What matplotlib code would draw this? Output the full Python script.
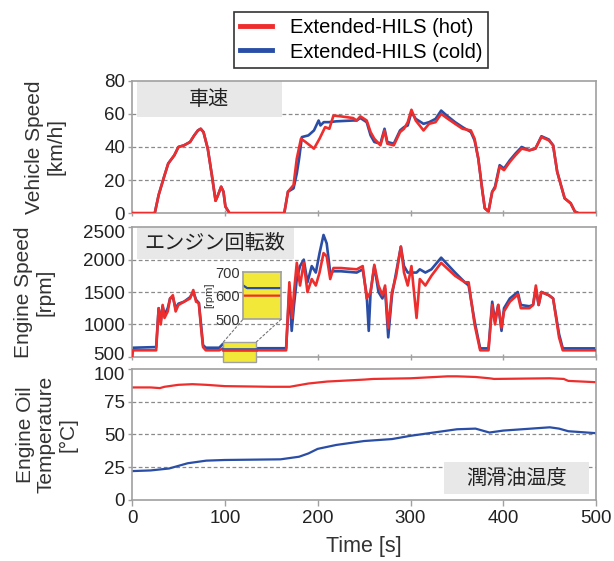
import numpy as np
import matplotlib
matplotlib.use("Agg")
import matplotlib.pyplot as plt
import matplotlib.transforms as mtransforms
from matplotlib.patches import Rectangle, ConnectionPatch

plt.rcParams['font.family'] = ['Liberation Sans', 'Noto Sans CJK JP', 'DejaVu Sans']

RED = '#ee2d2d'
BLUE = '#2a4ea6'
GRAY = '#a0a0a0'
BOXC = '#e8e8e8'

# vehicle speed [km/h]
t_spd_hot = [0, 24.5, 28.7, 34, 39, 45.6, 50, 56, 62.5, 67, 71, 74, 77, 81.6, 86, 90, 92, 96, 98.5, 100.6,
             105, 164, 168, 174, 177.5, 182, 187, 196, 202, 208, 212.6, 217, 225, 238, 242, 246, 252.8, 257,
             261, 267.6, 272, 275, 282, 288.7, 293, 297, 301, 305.6, 314, 320, 327, 333, 339, 348, 356, 365,
             369, 373, 377.5, 380, 384, 388, 391, 396, 400.7, 407, 413, 419.7, 428, 434.5, 441, 449, 453.6,
             458, 462, 466, 472.5, 477, 481, 500]
spd_hot = [0, 0, 11, 21, 30, 35, 40, 41, 43, 47, 50, 51, 49, 39, 23, 7.5, 10, 16, 13, 4,
           0, 0, 13, 17, 33, 45, 43, 39, 45, 52, 51, 59, 58.5, 57.5, 56, 58.5, 56, 49,
           45, 41, 50, 42, 41, 49, 51, 55, 62.5, 56, 50, 54, 55, 60, 57.5, 54, 51, 50,
           45, 33, 13, 3, 1, 13, 15, 28, 26, 31, 35, 39, 38, 39, 46, 44, 41,
           25, 17, 9, 6, 1, 0, 0]
t_spd_cold = [0, 24.5, 28.7, 34, 39, 45.6, 50, 56, 62.5, 67, 71, 74, 77, 81.6, 86, 90, 92, 96, 98.5, 100.6,
              105, 164, 168, 174, 177.5, 180, 183, 190, 196, 201, 203, 206.5, 212, 220, 238, 242, 246, 252.8,
              257, 261, 267.6, 272, 275, 282, 288.7, 293, 297, 301, 305.6, 314, 320, 327, 333, 339, 348, 356,
              365, 369, 373, 377.5, 380, 384, 388, 391, 396, 400.7, 407, 413, 419.7, 428, 434.5, 441, 449,
              453.6, 458, 462, 466, 472.5, 477, 481, 500]
spd_cold = [0, 0, 11, 21, 30, 35, 40, 41, 43, 47, 50, 51, 49, 39, 23, 7.5, 10, 16, 13, 4,
            0, 0, 13, 15, 24, 33, 46, 47, 50, 56, 53, 55, 55, 55.5, 56, 56, 57.5, 55,
            47, 43, 42, 51, 43, 42, 50, 52, 53, 61, 57, 54, 55, 57, 62, 59, 55, 52,
            49, 44, 33, 13, 3, 1, 13, 16, 29, 27, 32, 36, 40, 38, 39, 46.5, 44.5,
            41, 25, 17, 9, 6, 1, 0, 0]

# engine speed [rpm]
t_rpm_hot = [0, 1, 26, 28.7, 31, 33, 35, 38.5, 41, 44, 47, 50, 56, 62.5, 66, 69, 72, 74, 76.5, 79.5,
             94, 98, 100, 166, 169.5, 172.5, 174.5, 177.5, 181, 185, 189, 193.6, 198, 202, 206.3, 209.7,
             213.5, 217, 225, 242, 248.5, 252.8, 257, 261, 265.5, 269.7, 272.6, 276, 280, 284.5, 289.6,
             293, 297, 301, 306.5, 310, 316, 322.5, 333, 348, 358.5, 362.6, 369, 375, 384, 388, 391,
             394.5, 398, 400.7, 407, 415.5, 418.8, 428, 432, 435, 438, 441, 449, 453.6, 460, 464, 500]
rpm_hot = [450, 600, 600, 1250, 1000, 1300, 1100, 1200, 1400, 1450, 1200, 1300, 1350, 1400, 1530, 1350,
           1330, 1000, 650, 600, 600, 630, 600, 600, 1650, 1100, 1500, 1950, 1600, 1950, 1500, 1700,
           1600, 1800, 2100, 2050, 1700, 1870, 1870, 1850, 1900, 1400, 1500, 1920, 1600, 1450, 1600,
           950, 1500, 1750, 2200, 1800, 1600, 1900, 1100, 1700, 1600, 1750, 1950, 1750, 1650, 1650,
           1000, 600, 600, 1300, 1000, 1300, 950, 1200, 1350, 1460, 1250, 1250, 1300, 1600, 1300,
           1500, 1450, 1400, 800, 600, 600]
t_rpm_cold = [0, 1, 26, 28.7, 31, 33, 35, 38.5, 41, 44, 47, 50, 56, 62.5, 66, 69, 72, 74, 76.5, 79.5,
              94, 98, 100, 104, 166, 169.5, 172, 174.5, 177.5, 181, 185, 189, 193.6, 198, 202, 206.3,
              209.7, 213.5, 217, 225, 242, 248.5, 252.8, 255, 257, 261, 265.5, 269.7, 272.6, 276, 280,
              284.5, 289.6, 293, 297, 301, 306.5, 310, 316, 322.5, 333, 348, 358.5, 362.6, 369, 375,
              384, 388, 391, 394.5, 398, 400.7, 407, 415.5, 418.8, 428, 432, 435, 438, 441, 449, 453.6,
              460, 464, 500]
rpm_cold = [640, 640, 650, 1250, 1050, 1280, 1150, 1250, 1400, 1420, 1250, 1320, 1350, 1420, 1500, 1380,
            1330, 1050, 680, 640, 640, 700, 645, 632, 632, 1550, 900, 1300, 1700, 1900, 2000, 1650,
            1900, 1800, 2100, 2380, 2250, 1800, 1820, 1820, 1800, 1850, 1450, 900, 1500, 1900, 1500,
            1400, 1550, 800, 1450, 1800, 2200, 1900, 1800, 1800, 1800, 1850, 1800, 1850, 2030, 1800,
            1650, 1600, 1050, 630, 630, 1350, 1050, 1300, 900, 1250, 1400, 1500, 1300, 1280, 1300,
            1550, 1300, 1500, 1450, 1400, 850, 630, 630]

# engine oil temperature [degC]
t_oil_hot = [0, 20, 30, 35, 50, 65, 80, 100, 150, 170, 190, 210, 250, 260, 300, 340, 350, 370, 385, 390,
             450, 465, 470, 500]
oil_hot = [86, 86, 85.5, 86.5, 88, 88.5, 88, 87, 86.5, 86.5, 89, 90.5, 92, 92.5, 93, 94.5, 94.5, 94, 93,
           92.5, 93, 92.5, 91, 90]
t_oil_cold = [0, 20, 40, 60, 80, 100, 160, 180, 190, 200, 220, 250, 280, 300, 330, 350, 370, 380, 385,
              400, 420, 450, 460, 470, 500]
oil_cold = [22, 22.5, 24, 28, 30, 30.5, 31, 33, 35.5, 39, 42, 45, 46.5, 49, 52, 54, 54.5, 52.5, 51.5,
            53, 54, 55.5, 54.5, 52.5, 51]

labels = ['Extended-HILS (hot)', 'Extended-HILS (cold)']
ylabels = ['Vehicle Speed\n[km/h]', 'Engine Speed\n[rpm]', 'Engine Oil\nTemperature\n[°C]']
titles = ['車速', 'エンジン回転数', '潤滑油温度']


def style_axis(ax, ylim, yticks):
    ax.set_xlim(0, 500)
    ax.set_ylim(*ylim)
    ax.set_yticks(yticks)
    ax.set_xticks([0, 100, 200, 300, 400, 500])
    for s in ax.spines.values():
        s.set_color(GRAY)
        s.set_linewidth(1.2)
    ax.tick_params(axis='both', colors=GRAY, labelcolor='#222222', labelsize=13.5, width=1.0)
    ax.tick_params(axis='x', direction='inout', length=5)
    ax.tick_params(axis='y', direction='out', length=3, pad=2)
    for y in yticks[1:-1]:
        ax.axhline(y, color='#8a8a8a', ls=(0, (3, 2)), lw=0.9, zorder=0)


def shift_label(ax, idx, dy):
    lab = ax.get_yticklabels()[idx]
    lab.set_transform(lab.get_transform() +
                      mtransforms.ScaledTranslation(0, dy / 72, ax.figure.dpi_scale_trans))


fig = plt.figure(figsize=(6.14, 5.61), dpi=100)
ax1 = fig.add_axes([0.215, 0.620, 0.756, 0.236])
ax2 = fig.add_axes([0.215, 0.364, 0.756, 0.231])
ax3 = fig.add_axes([0.215, 0.109, 0.756, 0.233])

style_axis(ax1, (0, 80), [0, 20, 40, 60, 80])
style_axis(ax2, (500, 2500), [500, 1000, 1500, 2000, 2500])
style_axis(ax3, (0, 100), [0, 25, 50, 75, 100])
ax1.tick_params(axis='x', labelbottom=False)
ax2.tick_params(axis='x', labelbottom=False)
ax3.tick_params(axis='x', direction='out', length=4)
shift_label(ax2, 0, 2.5)
shift_label(ax2, -1, -3)
shift_label(ax3, -1, -3)

h1, = ax1.plot(t_spd_hot, spd_hot, color=RED, lw=1.9, zorder=3)
h2, = ax1.plot(t_spd_cold, spd_cold, color=BLUE, lw=1.9, zorder=2)
ax2.plot(t_rpm_cold, rpm_cold, color=BLUE, lw=1.9, zorder=2)
ax2.plot(t_rpm_hot, rpm_hot, color=RED, lw=1.9, zorder=3)
ax3.plot(t_oil_hot, oil_hot, color=RED, lw=1.6)
ax3.plot(t_oil_cold, oil_cold, color=BLUE, lw=1.6)

# gray title boxes
for ax, txt, (x0, x1, y0, y1) in [(ax1, titles[0], (5, 162, 58, 80)),
                                  (ax2, titles[1], (5, 174, 2010, 2500)),
                                  (ax3, titles[2], (336, 492, 4.5, 29))]:
    ax.add_patch(Rectangle((x0, y0), x1 - x0, y1 - y0, facecolor=BOXC, edgecolor='none', zorder=1))
    ax.text((x0 + x1) / 2, (y0 + y1) / 2, txt, ha='center', va='center', fontsize=14.5,
            color='#222222', zorder=4)

# y labels, each sits a little differently in the original
for ax, lab, xpos in zip([ax1, ax2, ax3], ylabels, [-0.143, -0.168, -0.118]):
    ax.set_ylabel(lab, fontsize=15, color='#333333', linespacing=1.15)
    ax.yaxis.set_label_coords(xpos, 0.5)
ax3.set_xlabel('Time [s]', fontsize=15.5, color='#333333', labelpad=6)

# zoomed inset of idle speed
rx0, rx1, ry0, ry1 = 98.5, 134, 420, 730
ax2.add_patch(Rectangle((rx0, ry0), rx1 - rx0, ry1 - ry0, facecolor='#f2e83a', edgecolor=GRAY,
                        lw=1.0, zorder=4, clip_on=False))
ax2.plot([rx0, rx1], [625, 625], color=BLUE, lw=1.9, zorder=5)
ax2.plot([rx0, rx1], [600, 600], color=RED, lw=1.9, zorder=5)

axin = fig.add_axes([0.396, 0.431, 0.062, 0.084])
axin.set_facecolor('#f2e83a')
axin.plot(t_rpm_cold, rpm_cold, color=BLUE, lw=1.6)
axin.plot(t_rpm_hot, rpm_hot, color=RED, lw=1.6)
axin.set_xlim(rx0 + 2, rx1)
axin.set_ylim(500, 700)
axin.set_yticks([500, 600, 700])
axin.set_xticks([])
axin.tick_params(axis='y', length=0, labelsize=10.5, colors='#333333', pad=2)
for s in axin.spines.values():
    s.set_color(GRAY)
    s.set_linewidth(1.2)
axin.set_ylabel('[rpm]', fontsize=8, color='#333333', labelpad=1)

for xa, xb in [(rx0, 0), (rx1, 1)]:
    con = ConnectionPatch(xyA=(xa, ry1), coordsA=ax2.transData, xyB=(xb, 0), coordsB=axin.transAxes,
                          color='#777777', lw=0.8, ls=(0, (2, 2)), zorder=6)
    fig.add_artist(con)

leg = fig.legend([h1, h2], labels, loc='upper center', bbox_to_anchor=(0.588, 0.985),
                 fontsize=14.5, frameon=True, fancybox=False, edgecolor='black', handlelength=1.6,
                 borderpad=0.3, labelspacing=0.25, handletextpad=0.9, borderaxespad=0.2)
leg.get_frame().set_linewidth(1.2)
for line in leg.get_lines():
    line.set_linewidth(3.5)

fig.savefig('out.png', dpi=100)
